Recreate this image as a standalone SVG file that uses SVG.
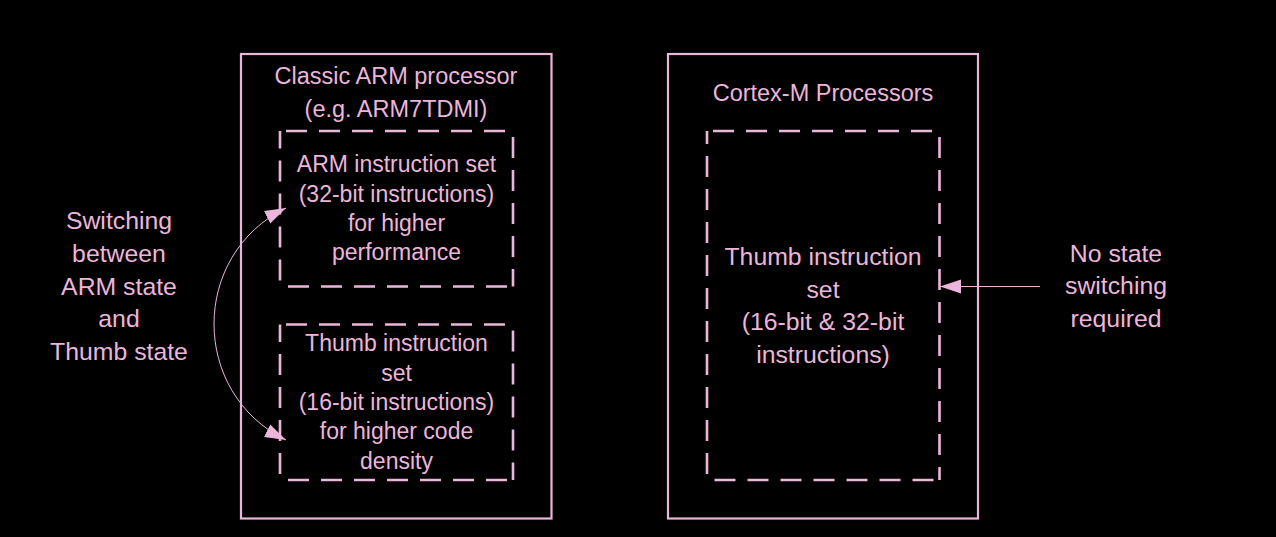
<svg xmlns="http://www.w3.org/2000/svg" width="1276" height="537" viewBox="0 0 1276 537">
<style>
.bg{fill:#000}
.solid{fill:none;stroke:#EBB6DA;stroke-width:2.2}
.dash{fill:none;stroke:#EBB6DA;stroke-width:2.6;stroke-dasharray:21 12;stroke-dashoffset:27}
text{font-family:"Liberation Sans",Arial,sans-serif;fill:#EBB6DA;text-anchor:middle}
.s{font-size:23px}
.t{font-size:23.5px}
.l{font-size:24.8px}
.conn{fill:none;stroke:#EBB6DA;stroke-width:1}
</style>
<defs>
<marker id="ah" markerUnits="userSpaceOnUse" markerWidth="22" markerHeight="16" refX="21" refY="7" orient="auto-start-reverse" viewBox="0 0 22 14">
<path d="M0,0 L21,7 L0,14 Z" fill="#EBB6DA"/>
</marker>
</defs>
<rect class="bg" x="0" y="0" width="1276" height="537"/>
<g id="classic">
<rect class="solid" x="241" y="54" width="310.5" height="464.5"/>
<text class="t" x="396" y="84">Classic ARM processor</text>
<text class="t" x="396" y="116.5">(e.g. ARM7TDMI)</text>
</g>
<g id="arm-set">
<path class="dash" d="M280,131 H513 M513,131 V286.5 M513,286.5 H280 M280,286.5 V131"/>
<text class="s" x="396.5" y="172">ARM instruction set</text>
<text class="s" x="396.5" y="201.5">(32-bit instructions)</text>
<text class="s" x="396.5" y="231">for higher</text>
<text class="s" x="396.5" y="260">performance</text>
</g>
<g id="thumb-set">
<path class="dash" d="M280,324.5 H513 M513,324.5 V480 M513,480 H280 M280,480 V324.5"/>
<text class="s" x="396.5" y="351">Thumb instruction</text>
<text class="s" x="396.5" y="380.5">set</text>
<text class="s" x="396.5" y="410">(16-bit instructions)</text>
<text class="s" x="396.5" y="439">for higher code</text>
<text class="s" x="396.5" y="468.5">density</text>
</g>
<g id="cortex">
<rect class="solid" x="668" y="54" width="310" height="464.5"/>
<text class="t" x="823" y="101">Cortex-M Processors</text>
</g>
<g id="cortex-thumb">
<path class="dash" d="M707,131 H939.5 M939.5,131 V480 M939.5,480 H707 M707,480 V131"/>
<text class="l" x="823" y="265">Thumb instruction</text>
<text class="l" x="823" y="297.5">set</text>
<text class="l" x="823" y="330">(16-bit &amp; 32-bit</text>
<text class="l" x="823" y="362.5">instructions)</text>
</g>
<g id="switch-label">
<text class="l" x="119" y="229">Switching</text>
<text class="l" x="119" y="261.5">between</text>
<text class="l" x="119" y="294.5">ARM state</text>
<text class="l" x="119" y="327">and</text>
<text class="l" x="119" y="360">Thumb state</text>
</g>
<g id="nostate-label">
<text class="l" x="1116" y="261.5">No state</text>
<text class="l" x="1116" y="294">switching</text>
<text class="l" x="1116" y="326.5">required</text>
</g>
<g id="connectors">
<path class="conn" d="M286,208 C190,255 190,393 286,440" marker-start="url(#ah)" marker-end="url(#ah)"/>
<path class="conn" d="M1040,286.5 L940,286.5" marker-end="url(#ah)"/>
</g>
</svg>
